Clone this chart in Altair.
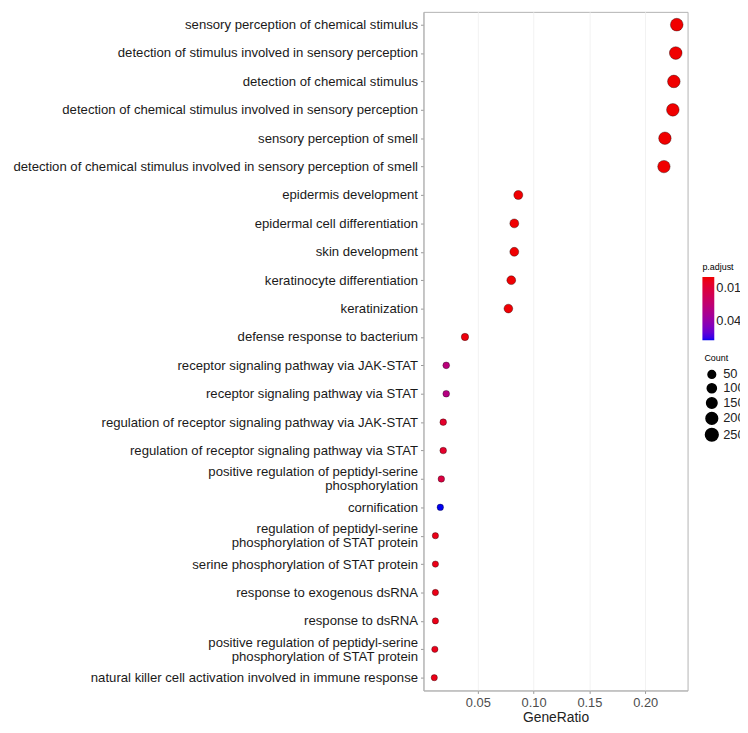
import altair as alt
import pandas as pd

terms = [
    "sensory perception of chemical stimulus",
    "detection of stimulus involved in sensory perception",
    "detection of chemical stimulus",
    "detection of chemical stimulus involved in sensory perception",
    "sensory perception of smell",
    "detection of chemical stimulus involved in sensory perception of smell",
    "epidermis development",
    "epidermal cell differentiation",
    "skin development",
    "keratinocyte differentiation",
    "keratinization",
    "defense response to bacterium",
    "receptor signaling pathway via JAK-STAT",
    "receptor signaling pathway via STAT",
    "regulation of receptor signaling pathway via JAK-STAT",
    "regulation of receptor signaling pathway via STAT",
    "positive regulation of peptidyl-serine\nphosphorylation",
    "cornification",
    "regulation of peptidyl-serine\nphosphorylation of STAT protein",
    "serine phosphorylation of STAT protein",
    "response to exogenous dsRNA",
    "response to dsRNA",
    "positive regulation of peptidyl-serine\nphosphorylation of STAT protein",
    "natural killer cell activation involved in immune response",
]
gene_ratio = [0.2283, 0.2274, 0.2257, 0.2248, 0.2177, 0.2168,
              0.0863, 0.0827, 0.0827, 0.0800, 0.0774, 0.0385,
              0.0217, 0.0217, 0.0190, 0.0190, 0.0173, 0.0164,
              0.0120, 0.0120, 0.0120, 0.0120, 0.0115, 0.0110]
counts = [250, 249, 247, 246, 238, 237,
          95, 91, 91, 88, 85, 42,
          24, 24, 21, 21, 19, 18,
          13, 13, 13, 13, 13, 12]
p_adjust = [0.0003, 0.0003, 0.0003, 0.0003, 0.0003, 0.0003,
            0.0005, 0.0005, 0.0005, 0.0006, 0.0007, 0.0015,
            0.0270, 0.0290, 0.0070, 0.0070, 0.0120, 0.0570,
            0.0030, 0.0030, 0.0030, 0.0030, 0.0035, 0.0030]

df = pd.DataFrame({"term": terms, "GeneRatio": gene_ratio,
                   "Count": counts, "padj": p_adjust})

chart = alt.Chart(df).mark_point(
    filled=True, opacity=1, stroke="#000000", strokeOpacity=0.35, strokeWidth=1
).encode(
    x=alt.X("GeneRatio:Q",
            scale=alt.Scale(domain=[0.0013, 0.238], nice=False, zero=False),
            axis=alt.Axis(values=[0.05, 0.10, 0.15, 0.20], format=".2f",
                          title="GeneRatio", titleFontSize=14, titleFontWeight="normal",
                          titleColor="#222222", titlePadding=1,
                          labelFontSize=13, labelColor="#4d4d4d", labelPadding=3,
                          tickColor="#999999", tickSize=3, domainColor="#b3b3b3",
                          gridColor="#f2f2f2")),
    y=alt.Y("term:N", sort=terms,
            scale=alt.Scale(padding=0.45),
            axis=alt.Axis(title=None, labelFontSize=13.3, labelColor="#1a1a1a",
                          labelExpr="split(datum.label, '\\n')", labelLineHeight=14,
                          labelOffset={"condition": {"test": "indexof(datum.value, '\\n') >= 0",
                                                     "value": -7}, "value": 0},
                          labelLimit=0, labelPadding=3,
                          tickColor="#999999", tickSize=3, domainColor="#b3b3b3",
                          gridColor="#f2f2f2")),
    fill=alt.Fill("padj:Q",
                  scale=alt.Scale(domain=[0.057, 0.0003], range=["#0000f0", "#f00000"],
                                  interpolate="lab", nice=False),
                  legend=alt.Legend(title="p.adjust", orient="none", legendX=282, legendY=254,
                                    values=[0.01, 0.02, 0.03, 0.04], format=".2f",
                                    gradientLength=64, gradientThickness=12,
                                    titleFontSize=9, titleFontWeight="normal",
                                    labelFontSize=13, labelColor="#222222")),
    size=alt.Size("Count:Q",
                  scale=alt.Scale(domain=[12, 250], range=[40, 165], zero=False),
                  legend=alt.Legend(title="Count", orient="none", legendX=284, legendY=346,
                                    values=[50, 100, 150, 200, 250], rowPadding=-5,
                                    symbolFillColor="#000000", symbolStrokeColor="#000000",
                                    symbolOpacity=1, symbolType="circle",
                                    titleFontSize=9, titleFontWeight="normal",
                                    labelFontSize=13, labelColor="#222222")),
).properties(
    width=267, height=686,
    autosize=alt.AutoSizeParams(type="none"),
    padding={"left": 420, "top": 0, "right": 53, "bottom": 31},
).configure(
    font="Liberation Sans",
).configure_view(
    stroke="#b3b3b3", strokeWidth=1,
)

chart.save("out.html", embed_options={"renderer": "svg", "actions": False})
